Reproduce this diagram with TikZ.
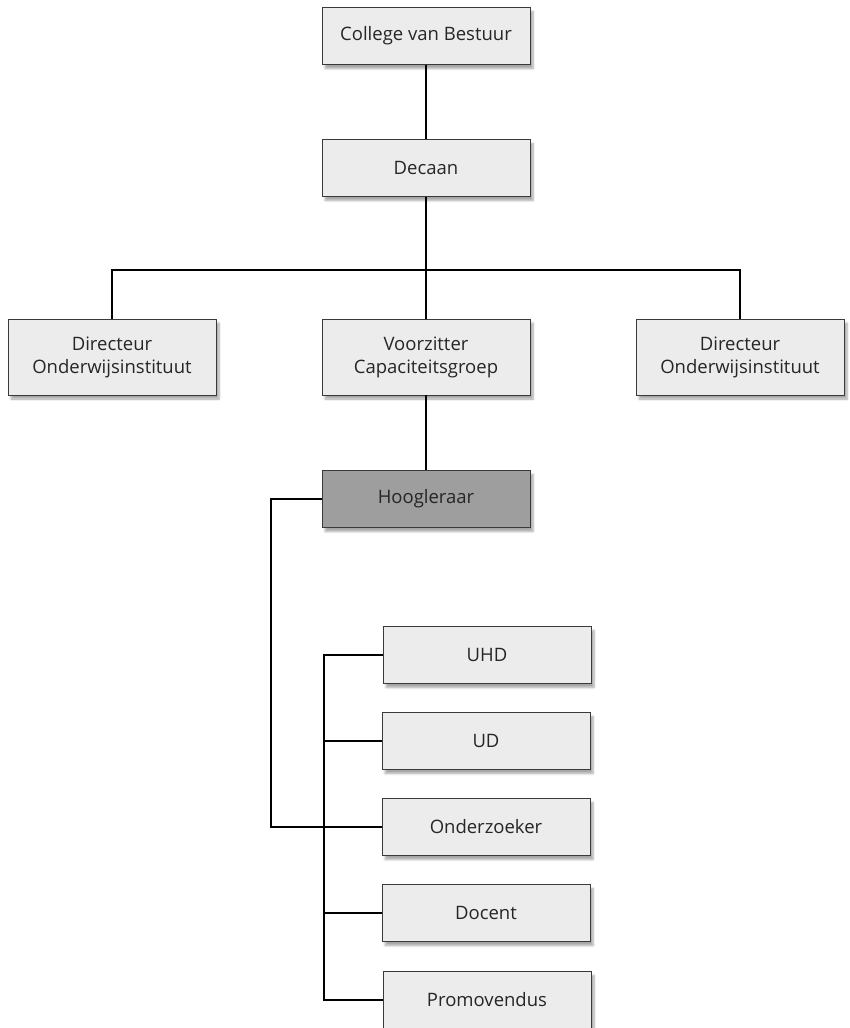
\documentclass[tikz,border=0pt]{standalone}
\usepackage{fontspec}
\setmainfont{Open Sans}
\usetikzlibrary{shadows,shadows.blur,calc}
\definecolor{boxfill}{HTML}{EBECEB}
\definecolor{boxline}{HTML}{3A3A3A}
\definecolor{hoogfill}{HTML}{9E9E9E}
\tikzset{
  functie/.style={draw=boxline,fill=boxfill,line width=0.9pt,minimum width=208pt,
    minimum height=57pt,align=center,inner sep=2pt,font=\fontsize{18.5}{23}\selectfont,
    text=black!85,blur shadow={shadow xshift=3pt,shadow yshift=-4pt,shadow blur steps=6,shadow opacity=35}},
  hoog/.style={minimum height=76pt},
  lijn/.style={line width=1.4pt,black}
}
\begin{document}
\begin{tikzpicture}[x=1pt,y=-1pt]
        \useasboundingbox (0,0) rectangle (849,1028);
        % --- bestuur ---
        \node[functie] (cvb) at (426,36) {College van Bestuur};
        \node[functie] (dec) at (426,168) {Decaan};
        \coordinate (balk) at (426,270);
        % --- drie onderdelen ---
        \node[functie,hoog] (dirL) at (112,357) {Directeur\\ Onderwijsinstituut};
        \node[functie,hoog] (vz) at (426,357) {Voorzitter\\ Capaciteitsgroep};
        \node[functie,hoog] (dirR) at (740,357) {Directeur\\ Onderwijsinstituut};
        \node[functie,fill=hoogfill] (hgl) at (426,499) {Hoogleraar};
        % --- staf ---
        \node[functie] (uhd) at (487,655) {UHD};
        \node[functie] (ud) at (486,741) {UD};
        \node[functie] (oz) at (486,827) {Onderzoeker};
        \node[functie] (doc) at (486,913) {Docent};
        \node[functie] (prom) at (487,1000) {Promovendus};
        \coordinate (rug) at (324,655);
        \coordinate (haak) at (271,499);
        % --- lijnen ---
        \draw[lijn] (cvb) -- (dec);
        \draw[lijn] (dec) -- (vz);
        \draw[lijn] (dirL.north) |- (balk) -| (dirR.north);
        \draw[lijn] (vz) -- (hgl);
        \draw[lijn] (hgl.west) -- (haak) |- (oz.west);
        \draw[lijn] (uhd.west) -- (rug) |- (prom.west);
        \foreach \n in {ud,oz,doc}{\draw[lijn] (\n.west) -- (\n.west -| rug);}
    \end{tikzpicture}
\end{document}
